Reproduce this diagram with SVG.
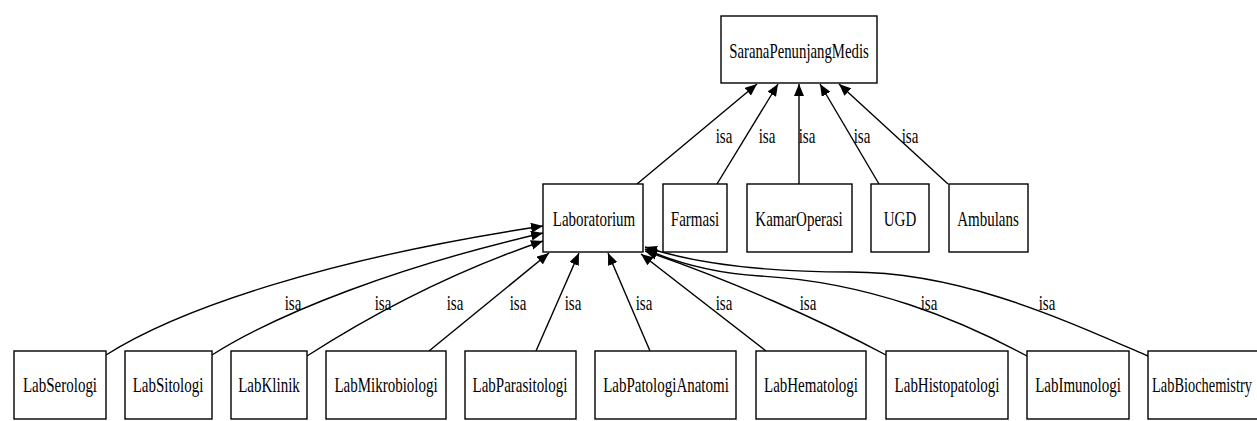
<svg xmlns="http://www.w3.org/2000/svg" width="1257" height="421" viewBox="0 0 1257 421">
  <style>
    .node rect { fill: #ffffff; stroke: #000000; stroke-width: 1.4; }
    .node text, .lbl { font-family: "Liberation Serif", "Times New Roman", serif; font-size: 20px; fill: #000000; text-anchor: middle; }
    .edge { fill: none; stroke: #000000; stroke-width: 1.4; marker-end: url(#arrow); }
  </style>
  <defs>
    <marker id="arrow" viewBox="0 0 12 10" refX="12" refY="5" markerWidth="12" markerHeight="10" markerUnits="userSpaceOnUse" orient="auto">
      <path d="M0,0 L12,5 L0,10 Z" fill="#000000"/>
    </marker>
  </defs>
  <rect width="1257" height="421" fill="#ffffff"/>

  <!-- connectors -->
  <g id="edges">
    <!-- into SaranaPenunjangMedis -->
    <path class="edge" d="M637,184 L757,84"/>
    <path class="edge" d="M717,184 L778,84"/>
    <path class="edge" d="M799,184 L799,84"/>
    <path class="edge" d="M879,184 L820,84"/>
    <path class="edge" d="M948,184 L839,84"/>
    <!-- into Laboratorium -->
    <path class="edge" d="M106,355 C180,308 330,258 543,226"/>
    <path class="edge" d="M212,355 C280,312 400,266 543,233"/>
    <path class="edge" d="M307,356 C360,322 440,276 543,241"/>
    <path class="edge" d="M429,351 L549,253"/>
    <path class="edge" d="M536,351 L579,253"/>
    <path class="edge" d="M650,351 L608,253"/>
    <path class="edge" d="M766,351 L641,254"/>
    <path class="edge" d="M886,355 C820,320 730,280 645,251"/>
    <path class="edge" d="M1027,356 C960,320 870,282 760,276 C710,273 670,260 645,249"/>
    <path class="edge" d="M1148,356 C1060,318 960,272 850,272 C760,272 690,262 645,247"/>
    <!-- edge labels (condensed serif) -->
    <text class="lbl" transform="translate(724,143) scale(0.75,1)">isa</text>
    <text class="lbl" transform="translate(767,143) scale(0.75,1)">isa</text>
    <text class="lbl" transform="translate(807,143) scale(0.75,1)">isa</text>
    <text class="lbl" transform="translate(862,143) scale(0.75,1)">isa</text>
    <text class="lbl" transform="translate(910,143) scale(0.75,1)">isa</text>
    <text class="lbl" transform="translate(293,310) scale(0.75,1)">isa</text>
    <text class="lbl" transform="translate(383,310) scale(0.75,1)">isa</text>
    <text class="lbl" transform="translate(455,310) scale(0.75,1)">isa</text>
    <text class="lbl" transform="translate(518,310) scale(0.75,1)">isa</text>
    <text class="lbl" transform="translate(573,310) scale(0.75,1)">isa</text>
    <text class="lbl" transform="translate(644,310) scale(0.75,1)">isa</text>
    <text class="lbl" transform="translate(724,310) scale(0.75,1)">isa</text>
    <text class="lbl" transform="translate(808,310) scale(0.75,1)">isa</text>
    <text class="lbl" transform="translate(929,310) scale(0.75,1)">isa</text>
    <text class="lbl" transform="translate(1047,310) scale(0.75,1)">isa</text>
  </g>

  <!-- top node -->
  <g id="SaranaPenunjangMedis" class="node">
    <rect x="721" y="16" width="156" height="67"/>
    <text transform="translate(799,58) scale(0.74,1)">SaranaPenunjangMedis</text>
  </g>

  <!-- middle row -->
  <g id="Laboratorium" class="node">
    <rect x="543" y="184" width="100" height="68"/>
    <text transform="translate(594,226) scale(0.75,1)">Laboratorium</text>
  </g>
  <g id="Farmasi" class="node">
    <rect x="663" y="184" width="64" height="68"/>
    <text transform="translate(695,226) scale(0.75,1)">Farmasi</text>
  </g>
  <g id="KamarOperasi" class="node">
    <rect x="747" y="184" width="105" height="68"/>
    <text transform="translate(799,226) scale(0.75,1)">KamarOperasi</text>
  </g>
  <g id="UGD" class="node">
    <rect x="871" y="184" width="58" height="68"/>
    <text transform="translate(900,226) scale(0.75,1)">UGD</text>
  </g>
  <g id="Ambulans" class="node">
    <rect x="949" y="184" width="79" height="68"/>
    <text transform="translate(988,226) scale(0.75,1)">Ambulans</text>
  </g>

  <!-- bottom row -->
  <g id="LabSerologi" class="node">
    <rect x="14" y="351" width="92" height="68"/>
    <text transform="translate(60,392) scale(0.75,1)">LabSerologi</text>
  </g>
  <g id="LabSitologi" class="node">
    <rect x="125" y="351" width="87" height="68"/>
    <text transform="translate(168,392) scale(0.75,1)">LabSitologi</text>
  </g>
  <g id="LabKlinik" class="node">
    <rect x="231" y="351" width="76" height="68"/>
    <text transform="translate(269,392) scale(0.75,1)">LabKlinik</text>
  </g>
  <g id="LabMikrobiologi" class="node">
    <rect x="326" y="351" width="120" height="68"/>
    <text transform="translate(386,392) scale(0.75,1)">LabMikrobiologi</text>
  </g>
  <g id="LabParasitologi" class="node">
    <rect x="465" y="351" width="111" height="68"/>
    <text transform="translate(520,392) scale(0.75,1)">LabParasitologi</text>
  </g>
  <g id="LabPatologiAnatomi" class="node">
    <rect x="595" y="351" width="141" height="68"/>
    <text transform="translate(666,392) scale(0.75,1)">LabPatologiAnatomi</text>
  </g>
  <g id="LabHematologi" class="node">
    <rect x="756" y="351" width="110" height="68"/>
    <text transform="translate(811,392) scale(0.75,1)">LabHematologi</text>
  </g>
  <g id="LabHistopatologi" class="node">
    <rect x="886" y="351" width="122" height="68"/>
    <text transform="translate(947,392) scale(0.75,1)">LabHistopatologi</text>
  </g>
  <g id="LabImunologi" class="node">
    <rect x="1027" y="351" width="102" height="68"/>
    <text transform="translate(1078,392) scale(0.75,1)">LabImunologi</text>
  </g>
  <g id="LabBiochemistry" class="node">
    <rect x="1148" y="351" width="124" height="68"/>
    <text transform="translate(1202,392) scale(0.72,1)">LabBiochemistry</text>
  </g>
</svg>
